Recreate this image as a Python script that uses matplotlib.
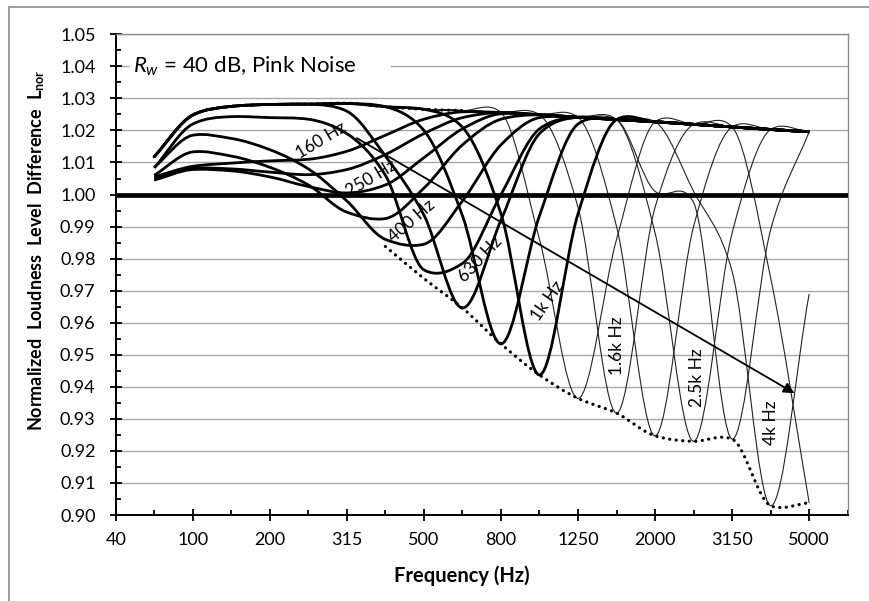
import numpy as np
import matplotlib
matplotlib.use('Agg')
import matplotlib.pyplot as plt
from matplotlib.path import Path
from matplotlib.patches import PathPatch, Rectangle
from matplotlib.ticker import MultipleLocator, FormatStrFormatter

plt.rcParams['font.family'] = ['Lato', 'DejaVu Sans']
plt.rcParams['mathtext.fontset'] = 'custom'
plt.rcParams['mathtext.rm'] = 'Lato'
plt.rcParams['mathtext.it'] = 'Lato:italic'
plt.rcParams['mathtext.bf'] = 'Lato:bold'

# axis positions of the third-octave points (one band = half a tick)
BAND_X = [0.5, 1.0, 1.5, 2.0, 2.5, 3.0, 3.5, 4.0, 4.5,
          5.0, 5.5, 6.0, 6.5, 7.0, 7.5, 8.0, 8.5, 9.0]
TICK_LABELS = ['40', '100', '200', '315', '500', '800', '1250', '2000', '3150', '5000']

# curves, one per dip frequency
L160 = [1.0055, 1.0088, 1.0098, 1.0105, 1.0110, 1.0135, 1.0185, 1.0235, 1.0258,
        1.0256, 1.0249, 1.0241, 1.0234, 1.0227, 1.0219, 1.0211, 1.0203, 1.0196]
L200 = [1.0048, 1.0082, 1.0080, 1.0070, 1.0062, 1.0078, 1.0125, 1.0190, 1.0240,
        1.0256, 1.0249, 1.0241, 1.0234, 1.0227, 1.0219, 1.0211, 1.0203, 1.0196]
L250 = [1.0045, 1.0078, 1.0074, 1.0055, 1.0025, 1.0005, 1.0030, 1.0115, 1.0205,
        1.0252, 1.0249, 1.0241, 1.0234, 1.0227, 1.0219, 1.0211, 1.0203, 1.0196]
L315 = [1.0060, 1.0133, 1.0120, 1.0085, 1.0030, 0.9945, 0.9925, 1.0020, 1.0155,
        1.0235, 1.0249, 1.0241, 1.0234, 1.0227, 1.0219, 1.0211, 1.0203, 1.0196]
L400 = [1.0085, 1.0185, 1.0175, 1.0140, 1.0080, 0.9980, 0.9860, 0.9845, 0.9980,
        1.0155, 1.0240, 1.0241, 1.0234, 1.0227, 1.0219, 1.0211, 1.0203, 1.0196]
L500 = [1.0083, 1.0220, 1.0243, 1.0240, 1.0235, 1.0190, 1.0060, 0.9765, 0.9785,
        1.0000, 1.0205, 1.0241, 1.0234, 1.0227, 1.0219, 1.0211, 1.0203, 1.0196]
L630 = [1.0118, 1.0248, 1.0275, 1.0281, 1.0282, 1.0260, 1.0120, 0.9936, 0.9646,
        0.9920, 1.0190, 1.0241, 1.0234, 1.0227, 1.0219, 1.0211, 1.0203, 1.0196]
L800 = [1.0118, 1.0248, 1.0275, 1.0281, 1.0282, 1.0284, 1.0274, 1.0200, 0.9934,
        0.9534, 0.9934, 1.0220, 1.0234, 1.0227, 1.0219, 1.0211, 1.0203, 1.0196]
L1000 = [1.0118, 1.0248, 1.0275, 1.0281, 1.0282, 1.0284, 1.0274, 1.0266, 1.0210,
         0.9940, 0.9437, 0.9940, 1.0234, 1.0227, 1.0219, 1.0211, 1.0203, 1.0196]
L1250 = [1.0118, 1.0248, 1.0275, 1.0281, 1.0282, 1.0284, 1.0274, 1.0266, 1.0262,
         1.0256, 0.9860, 0.9364, 0.9860, 1.0227, 1.0219, 1.0211, 1.0203, 1.0196]
L1600 = [1.0118, 1.0248, 1.0275, 1.0281, 1.0282, 1.0284, 1.0274, 1.0266, 1.0262,
         1.0256, 1.0249, 0.9960, 0.9318, 0.9960, 1.0219, 1.0211, 1.0203, 1.0196]
L2000 = [1.0118, 1.0248, 1.0275, 1.0281, 1.0282, 1.0284, 1.0274, 1.0266, 1.0262,
         1.0256, 1.0249, 1.0241, 0.9900, 0.9247, 0.9900, 1.0211, 1.0203, 1.0196]
L2500 = [1.0118, 1.0248, 1.0275, 1.0281, 1.0282, 1.0284, 1.0274, 1.0266, 1.0262,
         1.0256, 1.0249, 1.0241, 1.0234, 0.9880, 0.9230, 0.9880, 1.0203, 1.0196]
L3150 = [1.0118, 1.0248, 1.0275, 1.0281, 1.0282, 1.0284, 1.0274, 1.0266, 1.0262,
         1.0256, 1.0249, 1.0241, 1.0234, 1.0010, 0.9975, 0.9237, 0.9890, 1.0196]
L4000 = [1.0118, 1.0248, 1.0275, 1.0281, 1.0282, 1.0284, 1.0274, 1.0266, 1.0262,
         1.0256, 1.0249, 1.0241, 1.0234, 1.0227, 1.0010, 0.9760, 0.9029, 0.9690]
L5000 = [1.0118, 1.0248, 1.0275, 1.0281, 1.0282, 1.0284, 1.0274, 1.0266, 1.0262,
         1.0256, 1.0249, 1.0241, 1.0234, 1.0227, 1.0219, 1.0211, 0.9740, 0.9038]

# dotted envelopes
UPPER_X = [0.5, 1.0, 1.5, 2.0, 2.5, 3.0, 3.5, 4.0, 4.5]
UPPER_Y = [1.0118, 1.0248, 1.0275, 1.0281, 1.0282, 1.0285, 1.0274, 1.0266, 1.0262]
LOWER_X = [3.5, 4.0, 4.5, 5.0, 5.5, 6.0, 6.5, 7.0, 7.5, 8.0, 8.5, 9.0]
LOWER_Y = [0.9838, 0.9738, 0.9646, 0.9534, 0.9437, 0.9364, 0.9318, 0.9247,
           0.9230, 0.9237, 0.9029, 0.9038]

THICK = [L160, L200, L250, L315, L400, L500, L630, L800, L1000]
THIN = [L1250, L1600, L2000, L2500, L3150, L4000, L5000]

# band labels along the arrow: text, x, y, rotation
LABELS = [('160 Hz', 2.67, 1.0170, 31), ('250 Hz', 3.32, 1.0051, 31),
          ('400 Hz', 3.84, 0.9917, 41), ('630 Hz', 4.73, 0.9799, 47),
          ('1k Hz', 5.61, 0.9668, 55), ('1.6k Hz', 6.51, 0.9528, 90),
          ('2.5k Hz', 7.54, 0.9430, 90), ('4k Hz', 8.50, 0.9287, 90)]


def smooth_path(xs, ys):
    # smoothed line as cubic Beziers; tangents half Catmull-Rom, half monotone
    x = np.asarray(xs, float)
    y = np.asarray(ys, float)
    n = len(x)
    d = np.diff(y) / np.diff(x)
    m = np.zeros(n)
    m[0], m[-1] = d[0], d[-1]
    for k in range(1, n - 1):
        cr = (y[k + 1] - y[k - 1]) / (x[k + 1] - x[k - 1])
        mono = 0.0
        if d[k - 1] * d[k] > 0:
            mono = 2.0 / (1.0 / d[k - 1] + 1.0 / d[k])
        m[k] = 0.5 * cr + 0.5 * mono
    verts = [(x[0], y[0])]
    codes = [Path.MOVETO]
    for k in range(n - 1):
        h = (x[k + 1] - x[k]) / 3.0
        verts += [(x[k] + h, y[k] + h * m[k]), (x[k + 1] - h, y[k + 1] - h * m[k + 1]),
                  (x[k + 1], y[k + 1])]
        codes += [Path.CURVE4] * 3
    return Path(verts, codes)


fig = plt.figure(figsize=(8.7, 6.01), dpi=100)
ax = fig.add_axes([115.7 / 870, 1 - 515 / 601, (847.7 - 115.7) / 870, (515 - 34.3) / 601])

for ys in THIN:
    ax.add_patch(PathPatch(smooth_path(BAND_X, ys), fill=False, lw=0.8,
                           edgecolor='#222222', zorder=3))
for ys in THICK:
    ax.add_patch(PathPatch(smooth_path(BAND_X, ys), fill=False, lw=2.0,
                           edgecolor='black', zorder=4))
for xs, ys in [(UPPER_X, UPPER_Y), (LOWER_X, LOWER_Y)]:
    ax.add_patch(PathPatch(smooth_path(xs, ys), fill=False, lw=2.3, edgecolor='black',
                           linestyle=(0, (0.05, 2.0)), capstyle='round', zorder=5))

ax.axhline(1.0, color='black', lw=3.4, zorder=6)

ax.annotate('', xy=(8.81, 0.938), xytext=(3.13, 1.0176), zorder=7,
            arrowprops=dict(arrowstyle='-|>', color='black', lw=1.3,
                            mutation_scale=16, shrinkA=0, shrinkB=0))

for txt, x, y, rot in LABELS:
    ax.text(x, y, txt, rotation=rot, rotation_mode='anchor', ha='center', va='center',
            fontsize=12.5, zorder=8)

# text box (white, hides the grid line behind it)
ax.add_patch(Rectangle((0.185, 1.0355), 3.385, 0.009, facecolor='white',
                       edgecolor='none', zorder=8))
ax.text(0.22, 1.04, r'$R_w$ = 40 dB, Pink Noise', fontsize=16, ha='left', va='center',
        zorder=9)

ax.set_xlim(0, 9.5)
ax.set_ylim(0.90, 1.05)
ax.set_xticks(range(len(TICK_LABELS)))
ax.set_xticklabels(TICK_LABELS)
ax.xaxis.set_minor_locator(MultipleLocator(0.5))
ax.yaxis.set_major_locator(MultipleLocator(0.01))
ax.yaxis.set_minor_locator(MultipleLocator(0.005))
ax.yaxis.set_major_formatter(FormatStrFormatter('%.2f'))
ax.tick_params(which='major', direction='inout', length=9, width=1.3, labelsize=13,
               color='black')
ax.tick_params(axis='x', which='major', pad=8)
ax.tick_params(axis='y', which='major', pad=10)
ax.tick_params(which='minor', direction='in', length=3.5, width=1.3, color='black')
ax.grid(axis='y', which='major', color='#a8a8a8', lw=1.0, zorder=0)
ax.set_axisbelow(True)

for side in ['left', 'bottom']:
    ax.spines[side].set_color('black')
    ax.spines[side].set_linewidth(1.4)
for side in ['top', 'right']:
    ax.spines[side].set_color('#8c8c8c')
    ax.spines[side].set_linewidth(1.0)

fig.text(462 / 870, 1 - 576 / 601, 'Frequency (Hz)', ha='center', va='center',
         fontsize=14.5, fontweight='bold')
fig.text(37 / 870, 1 - 250 / 601,
         r'Normalized  Loudness  Level  Difference  L$_{\mathregular{nor}}$',
         rotation=90, ha='center', va='center', fontsize=13, fontweight='bold')

# outer chart border
fig.add_artist(Rectangle((9 / 870, -0.5), 2.0, 1.5 - 7 / 601, transform=fig.transFigure,
                         fill=False, edgecolor='#8c8c8c', lw=1.2))

fig.savefig('out.png', dpi=100)
